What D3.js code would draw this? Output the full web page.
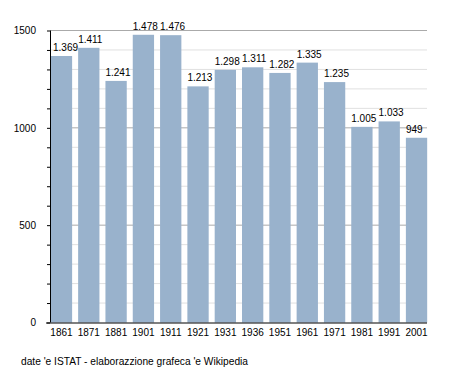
<!DOCTYPE html>
<html><head><meta charset="utf-8">
<script src="https://cdn.jsdelivr.net/npm/d3@7"></script>
<style>body{margin:0;background:#fff}svg{display:block}text{font-family:"Liberation Sans",Arial,sans-serif;fill:#000}</style>
</head><body>
<svg id="c" width="455" height="373"></svg>
<script>
const years = ["1861","1871","1881","1901","1911","1921","1931","1936","1951","1961","1971","1981","1991","2001"];
const population = [1369,1411,1241,1478,1476,1213,1298,1311,1282,1335,1235,1005,1033,949];
const yTicks = [0,500,1000,1500];
const sourceText = "date 'e ISTAT - elaborazzione grafeca 'e Wikipedia";

const svg = d3.select("#c");
const x = d3.scaleBand().domain(years).range([50,428]).paddingInner(0.22).paddingOuter(0.03);
const y = d3.scaleLinear().domain([0,1500]).range([322.5,30.5]);
const gridEnd = 427;
const FONT = "Liberation Sans, Arial, sans-serif";

// grid
const minor = d3.range(100,1600,100).filter(v=>v%500!==0);
svg.append("g").selectAll("line").data(minor).join("line")
  .attr("x1",50).attr("x2",gridEnd).attr("y1",d=>y(d)).attr("y2",d=>y(d))
  .attr("stroke","#e0e0e0").attr("stroke-width",1);
svg.append("g").selectAll("line").data(yTicks.filter(v=>v>0)).join("line")
  .attr("x1",50).attr("x2",gridEnd).attr("y1",d=>y(d)).attr("y2",d=>y(d))
  .attr("stroke","#aaaaaa").attr("stroke-width",1);

// bars
svg.append("g").selectAll("rect").data(years).join("rect")
  .attr("x",(d)=>x(d)).attr("width",x.bandwidth())
  .attr("y",(d,i)=>y(population[i])).attr("height",(d,i)=>y(0)-y(population[i]))
  .attr("fill","#99b2cc");

// value labels (left-aligned at bar start, kept clear of the axis)
const fmt = d3.formatLocale({decimal:",",thousands:".",grouping:[3],currency:["","€"]}).format(",d");
svg.append("g").selectAll("text").data(years).join("text")
  .attr("x",d=>Math.max(x(d), 53)).attr("y",(d,i)=>y(population[i])-5)
  .attr("text-anchor","start").attr("font-size","10px")
  .text((d,i)=>fmt(population[i]));

// y axis
const yAxis = d3.axisLeft(y).tickValues(d3.range(0,1600,100)).tickSize(3).tickPadding(0)
  .tickFormat(d=>yTicks.includes(d)?d:"");
const ga = svg.append("g").attr("transform","translate(50,0)").call(yAxis);
ga.select(".domain").remove();
ga.selectAll(".tick line").attr("stroke","#000");
ga.selectAll(".tick text").attr("x",-14).attr("font-size","10px").attr("font-family",FONT).attr("fill","#000");
svg.append("line").attr("x1",50.5).attr("x2",50.5).attr("y1",y(1500)).attr("y2",y(0)).attr("stroke","#000");

// x axis
const xAxis = d3.axisBottom(x).tickSize(0).tickPadding(6);
const gx = svg.append("g").attr("transform",`translate(0,${y(0)})`).call(xAxis);
gx.select(".domain").remove();
gx.selectAll(".tick text").attr("font-size","10px").attr("font-family",FONT).attr("fill","#000");
svg.append("line").attr("x1",46).attr("x2",gridEnd).attr("y1",y(0)+0.5).attr("y2",y(0)+0.5).attr("stroke","#000");

// source
svg.append("text").attr("x",21).attr("y",365).attr("font-size","10.2px").text(sourceText);
</script>
</body></html>
